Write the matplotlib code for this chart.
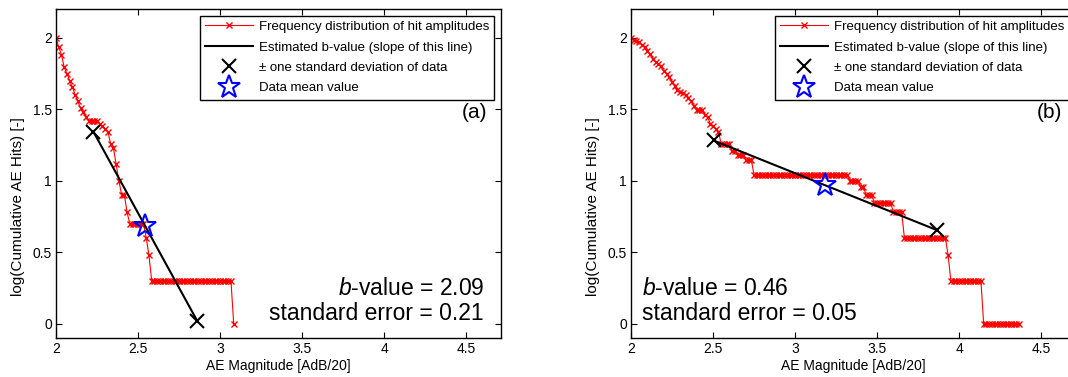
import numpy as np
import matplotlib.pyplot as plt

plt.rcParams['font.family'] = ['Liberation Sans', 'DejaVu Sans']
plt.rcParams['mathtext.fontset'] = 'custom'
plt.rcParams['mathtext.rm'] = 'Liberation Sans'
plt.rcParams['mathtext.it'] = 'Liberation Sans:italic'

# amplitude bins (AdB/20) start at 2.0, one bin every 1/60
mag_start = 2.0
bin_width = 1 / 60

# cumulative number of hits at or above each bin
hits_a = ([100, 86, 76, 62, 56, 50, 45, 40, 36, 32,
           30, 28, 26, 26, 26, 26, 25, 24, 23, 22,
           18, 17, 13, 10, 8, 8, 6, 5, 5, 5,
           5, 5, 5, 4, 3]
          + [2] * 30 + [1])
hits_b = ([100, 97, 95, 93, 89, 86, 81, 77, 71, 68,
           65, 63, 58, 56, 53, 49, 46, 43, 42, 41,
           40, 38, 36, 33, 31, 31, 31, 29, 28, 25,
           24, 23, 22, 18, 18, 18, 18, 16, 16, 15,
           15, 15, 14, 14, 14]
          + [11] * 35 + [10] * 4 + [9] * 2 + [8] * 3 + [7] * 7
          + [6] * 4 + [4] * 16 + [3] + [2] * 12 + [1] * 14)

b_values = [2.09, 0.46]
std_errors = [0.21, 0.05]
mean_mag = [2.545, 3.183]
mean_log = [0.68, 0.968]
std_mag = [0.317, 0.68]
tags = ['(a)', '(b)']

legend_labels = ['Frequency distribution of hit amplitudes',
                 'Estimated b-value (slope of this line)',
                 '\u00b1 one standard deviation of data',
                 'Data mean value']

fig = plt.figure(figsize=(10.68, 3.77), dpi=100)
W, H = 1068, 377
axes = [fig.add_axes([56 / W, 39 / H, 445 / W, 329 / H]),
        fig.add_axes([631 / W, 39 / H, 445 / W, 329 / H])]


def draw_panel(ax, hits, b, se, m, ylog, sd, tag, text_right):
    mags = mag_start + bin_width * np.arange(len(hits))
    ax.plot(mags, np.log10(hits), '-x', color='red', lw=0.8, ms=4, mew=1.0,
            label=legend_labels[0])

    # fitted Gutenberg-Richter line through the mean, spanning +/- one std
    xs = np.array([m - sd, m + sd])
    ys = ylog - b * (xs - m)
    ax.plot(xs, ys, '-', color='black', lw=1.5, label=legend_labels[1])
    ax.plot(xs, ys, 'x', color='black', ms=10, mew=1.5, ls='none',
            label=legend_labels[2])
    ax.plot([m], [ylog], '*', ms=17, mfc='none', mec='blue', mew=1.5,
            ls='none', label=legend_labels[3])

    ax.set_xlim(2, 4.713)
    ax.set_ylim(-0.1, 2.2)
    ax.set_xticks([2, 2.5, 3, 3.5, 4, 4.5])
    ax.set_xticklabels(['2', '2.5', '3', '3.5', '4', '4.5'])
    ax.set_yticks([0, 0.5, 1, 1.5, 2])
    ax.set_yticklabels(['0', '0.5', '1', '1.5', '2'])
    ax.tick_params(direction='in', top=True, right=True, length=4,
                   width=0.8, labelsize=10)
    ax.tick_params(axis='x', pad=3)
    ax.tick_params(axis='y', pad=3)
    for s in ax.spines.values():
        s.set_linewidth(1.0)

    ax.set_xlabel('AE Magnitude [AdB/20]', fontsize=10)
    ax.xaxis.set_label_coords(0.5, -0.085)
    ax.xaxis.label.set_va('center')
    ax.set_ylabel('log(Cumulative AE Hits) [-]', fontsize=11)
    ax.yaxis.set_label_coords(-0.085, 0.40)
    ax.yaxis.label.set_va('center')

    leg = ax.legend(loc='upper right', fontsize=9.5, handlelength=3.6,
                    handletextpad=0.45, labelspacing=0.62,
                    borderaxespad=0.5, fancybox=False, framealpha=1,
                    edgecolor='black', borderpad=0.4)
    leg.get_frame().set_linewidth(1.0)

    ax.text(4.63, 1.477, tag, fontsize=15, ha='right', va='center')
    if text_right:
        tx, ha = 4.61, 'right'
    else:
        tx, ha = 2.07, 'left'
    ax.text(tx, 0.244, r'$b$-value = %.2f' % b, fontsize=16.5, ha=ha,
            va='center')
    ax.text(tx, 0.07, 'standard error = %.2f' % se, fontsize=16.5, ha=ha,
            va='center')


draw_panel(axes[0], hits_a, b_values[0], std_errors[0], mean_mag[0],
           mean_log[0], std_mag[0], tags[0], True)
draw_panel(axes[1], hits_b, b_values[1], std_errors[1], mean_mag[1],
           mean_log[1], std_mag[1], tags[1], False)

fig.savefig('out.png', dpi=100)
